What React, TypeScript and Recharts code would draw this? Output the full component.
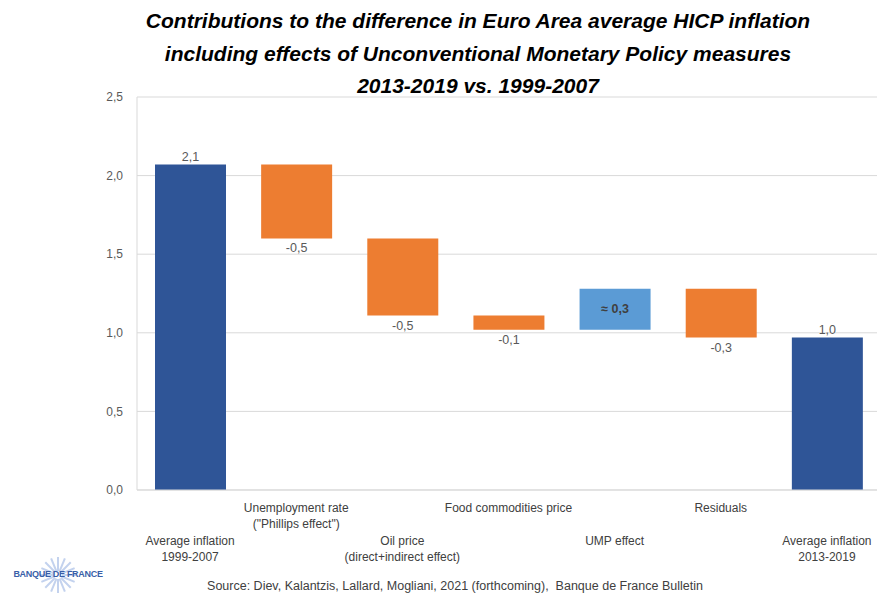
import React from "react";
import { BarChart, Bar, XAxis, YAxis, CartesianGrid, LabelList, Cell } from "recharts";

const categories = [
  "Average inflation 1999-2007",
  "Unemployment rate",
  "Oil price",
  "Food commodities price",
  "UMP effect",
  "Residuals",
  "Average inflation 2013-2019",
];
const tickLines: string[][] = [
  ["Average inflation", "1999-2007"],
  ["Unemployment rate", "(\"Phillips effect\")"],
  ["Oil price", "(direct+indirect effect)"],
  ["Food commodities price"],
  ["UMP effect"],
  ["Residuals"],
  ["Average inflation", "2013-2019"],
];
const baseValues = [0, 1.6, 1.11, 1.02, 1.02, 0.97, 0];
const barValues = [2.07, 0.47, 0.49, 0.09, 0.26, 0.31, 0.97];
const valueLabels = ["2,1", "-0,5", "-0,5", "-0,1", "\u2248 0,3", "-0,3", "1,0"];
const barKinds = ["total", "neg", "neg", "neg", "pos", "neg", "total"];
const yTicks = [0, 0.5, 1, 1.5, 2, 2.5];
const titleLines = [
  "Contributions to the difference in Euro Area average HICP inflation",
  "including effects of Unconventional Monetary Policy measures",
  "2013-2019 vs. 1999-2007",
];
const sourceText =
  "Source: Diev, Kalantzis, Lallard, Mogliani, 2021 (forthcoming),  Banque de France Bulletin";

const colors: Record<string, string> = {
  total: "#2F5597",
  neg: "#ED7D31",
  pos: "#5B9BD5",
};

const data = categories.map((c, i) => ({
  name: c,
  base: baseValues[i],
  value: barValues[i],
  label: valueLabels[i],
  kind: barKinds[i],
  idx: i,
}));

const FONT = "'Liberation Sans', Arial, sans-serif";

const XTick = (props: any) => {
  const { x, y, payload } = props;
  const i = payload.index;
  const lines = tickLines[i] || [];
  const startY = i % 2 === 1 ? y + 14 : y + 47;
  return (
    <g>
      {lines.map((l, k) => (
        <text
          key={k}
          x={x}
          y={startY + k * 15.5}
          textAnchor="middle"
          fontSize={12}
          fill="#404040"
          fontFamily={FONT}
        >
          {l}
        </text>
      ))}
    </g>
  );
};

const ValueLabel = (props: any) => {
  const { x, y, width, height, index } = props;
  const d = data[index];
  const cx = x + width / 2;
  if (d.kind === "total") {
    return (
      <text x={cx} y={y - 4} textAnchor="middle" fontSize={12.5} fill="#595959" fontFamily={FONT}>
        {d.label}
      </text>
    );
  }
  if (d.kind === "pos") {
    return (
      <text
        x={cx}
        y={y + height / 2 + 4}
        textAnchor="middle"
        fontSize={12.5}
        fontWeight="bold"
        fill="#404040"
        fontFamily={FONT}
      >
        {d.label}
      </text>
    );
  }
  return (
    <text x={cx} y={y + height + 14} textAnchor="middle" fontSize={12.5} fill="#595959" fontFamily={FONT}>
      {d.label}
    </text>
  );
};

const Logo = () => {
  const rays = Array.from({ length: 16 }, (_, k) => k);
  return (
    <div style={{ position: "absolute", left: 8, top: 550, width: 100, height: 45 }}>
      <svg width={100} height={45} style={{ position: "absolute", left: 0, top: 0 }}>
        {rays.map((k) => {
          const a = (k / 16) * Math.PI * 2;
          return (
            <line
              key={k}
              x1={50 + Math.cos(a) * 4}
              y1={25 + Math.sin(a) * 4}
              x2={50 + Math.cos(a) * 18}
              y2={25 + Math.sin(a) * 18}
              stroke="#c3d2ee"
              strokeWidth={2}
            />
          );
        })}
      </svg>
      <div
        style={{
          position: "absolute",
          left: 0,
          top: 19,
          width: 100,
          textAlign: "center",
          fontFamily: FONT,
          fontSize: 9,
          fontWeight: "bold",
          color: "#3a5fa8",
          letterSpacing: -0.3,
        }}
      >
        BANQUE DE FRANCE
      </div>
    </div>
  );
};

export default function App() {
  return (
    <div style={{ position: "absolute", left: 0, top: 0, width: 877, height: 595, background: "#fff", overflow: "hidden" }}>
      {titleLines.map((t, i) => (
        <div
          key={i}
          style={{
            position: "absolute",
            left: 0,
            width: 956,
            top: 9 + i * 32.5,
            textAlign: "center",
            fontFamily: FONT,
            fontSize: 21,
            fontWeight: "bold",
            fontStyle: "italic",
            color: "#000",
            whiteSpace: "nowrap",
          }}
        >
          {t}
        </div>
      ))}
      <div style={{ position: "absolute", left: 0, top: 0 }}>
        <BarChart
          width={877}
          height={595}
          data={data}
          margin={{ top: 97, right: -3, bottom: 25, left: 0 }}
        >
          <CartesianGrid vertical={false} stroke="#d9d9d9" />
          <XAxis
            dataKey="name"
            interval={0}
            tickLine={false}
            axisLine={{ stroke: "#d9d9d9" }}
            height={80}
            tick={<XTick />}
          />
          <YAxis
            width={137}
            domain={[0, 2.5]}
            ticks={yTicks}
            tickLine={false}
            axisLine={{ stroke: "#d9d9d9" }}
            tickFormatter={(v: number) => v.toFixed(1).replace(".", ",")}
            tick={{ fontSize: 12, fill: "#595959", fontFamily: FONT }}
            tickMargin={8}
          />
          <Bar dataKey="base" stackId="w" fill="transparent" barSize={71} isAnimationActive={false} />
          <Bar dataKey="value" stackId="w" barSize={71} isAnimationActive={false}>
            {data.map((d, i) => (
              <Cell key={i} fill={colors[d.kind]} />
            ))}
            <LabelList dataKey="label" content={<ValueLabel />} />
          </Bar>
        </BarChart>
      </div>
      <Logo />
      <div
        style={{
          position: "absolute",
          left: 0,
          width: 910,
          top: 579,
          textAlign: "center",
          fontFamily: FONT,
          fontSize: 12.5,
          color: "#404040",
          whiteSpace: "pre",
        }}
      >
        {sourceText}
      </div>
    </div>
  );
}
